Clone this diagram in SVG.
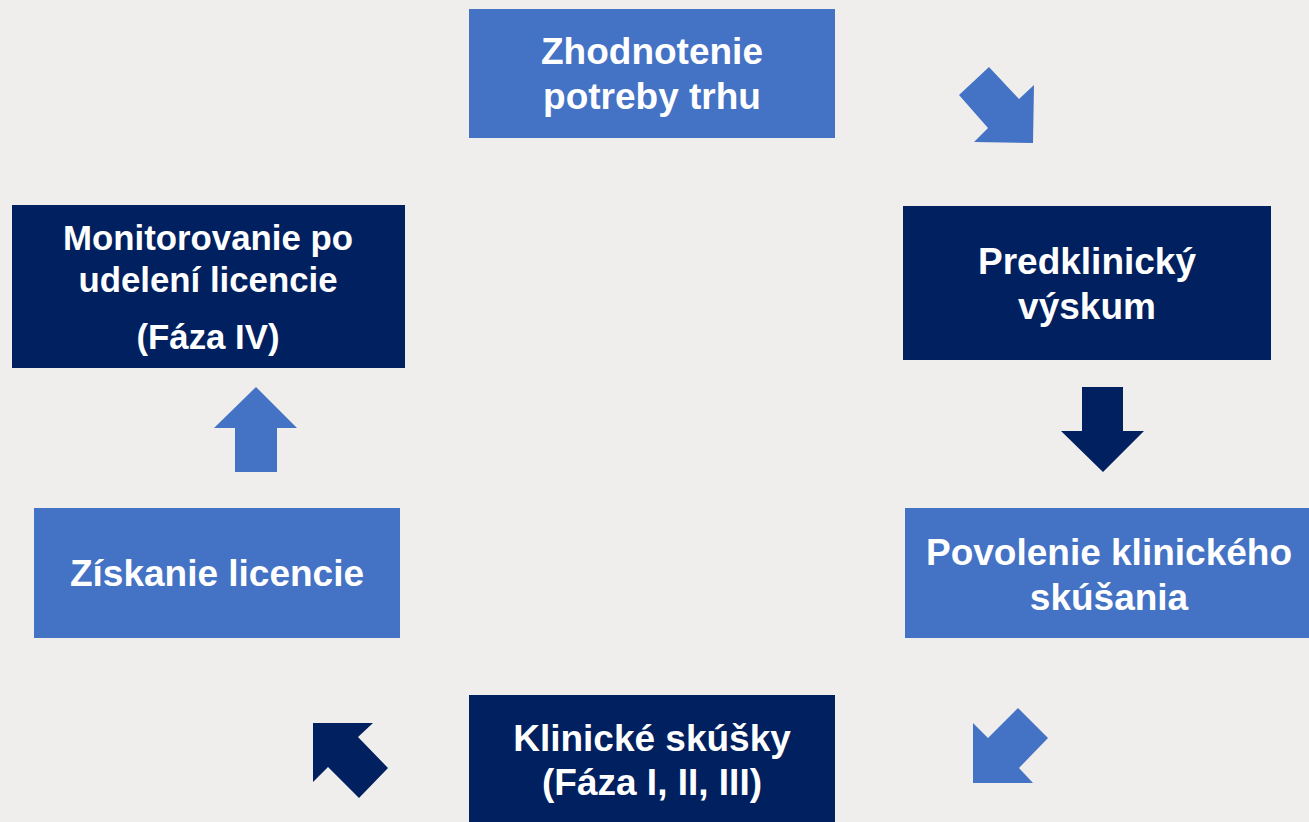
<svg xmlns="http://www.w3.org/2000/svg" width="1309" height="822" viewBox="0 0 1309 822">
<style>
.light{fill:#4472C4}
.dark{fill:#002060}
text{font-family:"Liberation Sans",Arial,sans-serif;font-weight:bold;font-size:37px;fill:#FFFFFF;text-anchor:middle}
.sm{font-size:34.8px}
</style>
<rect x="0" y="0" width="1309" height="822" fill="#EFEEEC"/>
<g id="n1">
<rect class="light" x="469" y="9" width="366" height="129"/>
<text x="652" y="64">Zhodnotenie</text>
<text x="652" y="109">potreby trhu</text>
</g>
<g id="n2">
<rect class="dark" x="903" y="206" width="368" height="154"/>
<text x="1087" y="274">Predklinický</text>
<text x="1087" y="319">výskum</text>
</g>
<g id="n3">
<rect class="light" x="905" y="508" width="404" height="130"/>
<text x="1109" y="565">Povolenie klinického</text>
<text x="1109" y="610">skúšania</text>
</g>
<g id="n4">
<rect class="dark" x="469" y="695" width="366" height="127"/>
<text x="652" y="751">Klinické skúšky</text>
<text x="652" y="795">(Fáza I, II, III)</text>
</g>
<g id="n5">
<rect class="light" x="34" y="508" width="366" height="130"/>
<text x="217" y="586">Získanie licencie</text>
</g>
<g id="n6">
<rect class="dark" x="12" y="205" width="393" height="163"/>
<text class="sm" x="208" y="250">Monitorovanie po</text>
<text class="sm" x="208" y="292">udelení licencie</text>
<text class="sm" x="208" y="349">(Fáza IV)</text>
</g>
<g id="connectors">
<polygon class="light" points="989,67 1019,99 1034,85 1033,143 974,142 988,128 959,95"/>
<polygon class="dark" points="1082,387 1123,387 1123,431 1144,431 1103,472 1061,431 1082,431"/>
<polygon class="light" points="1018,708 1048,738 1019,768 1033,783 973,783 973,723 988,738"/>
<polygon class="dark" points="313,723 373,723 358,737 388,768 359,798 328,767 313,782"/>
<polygon class="light" points="256,387 297,428 277,428 277,472 235,472 235,428 214,428"/>
</g>
</svg>
